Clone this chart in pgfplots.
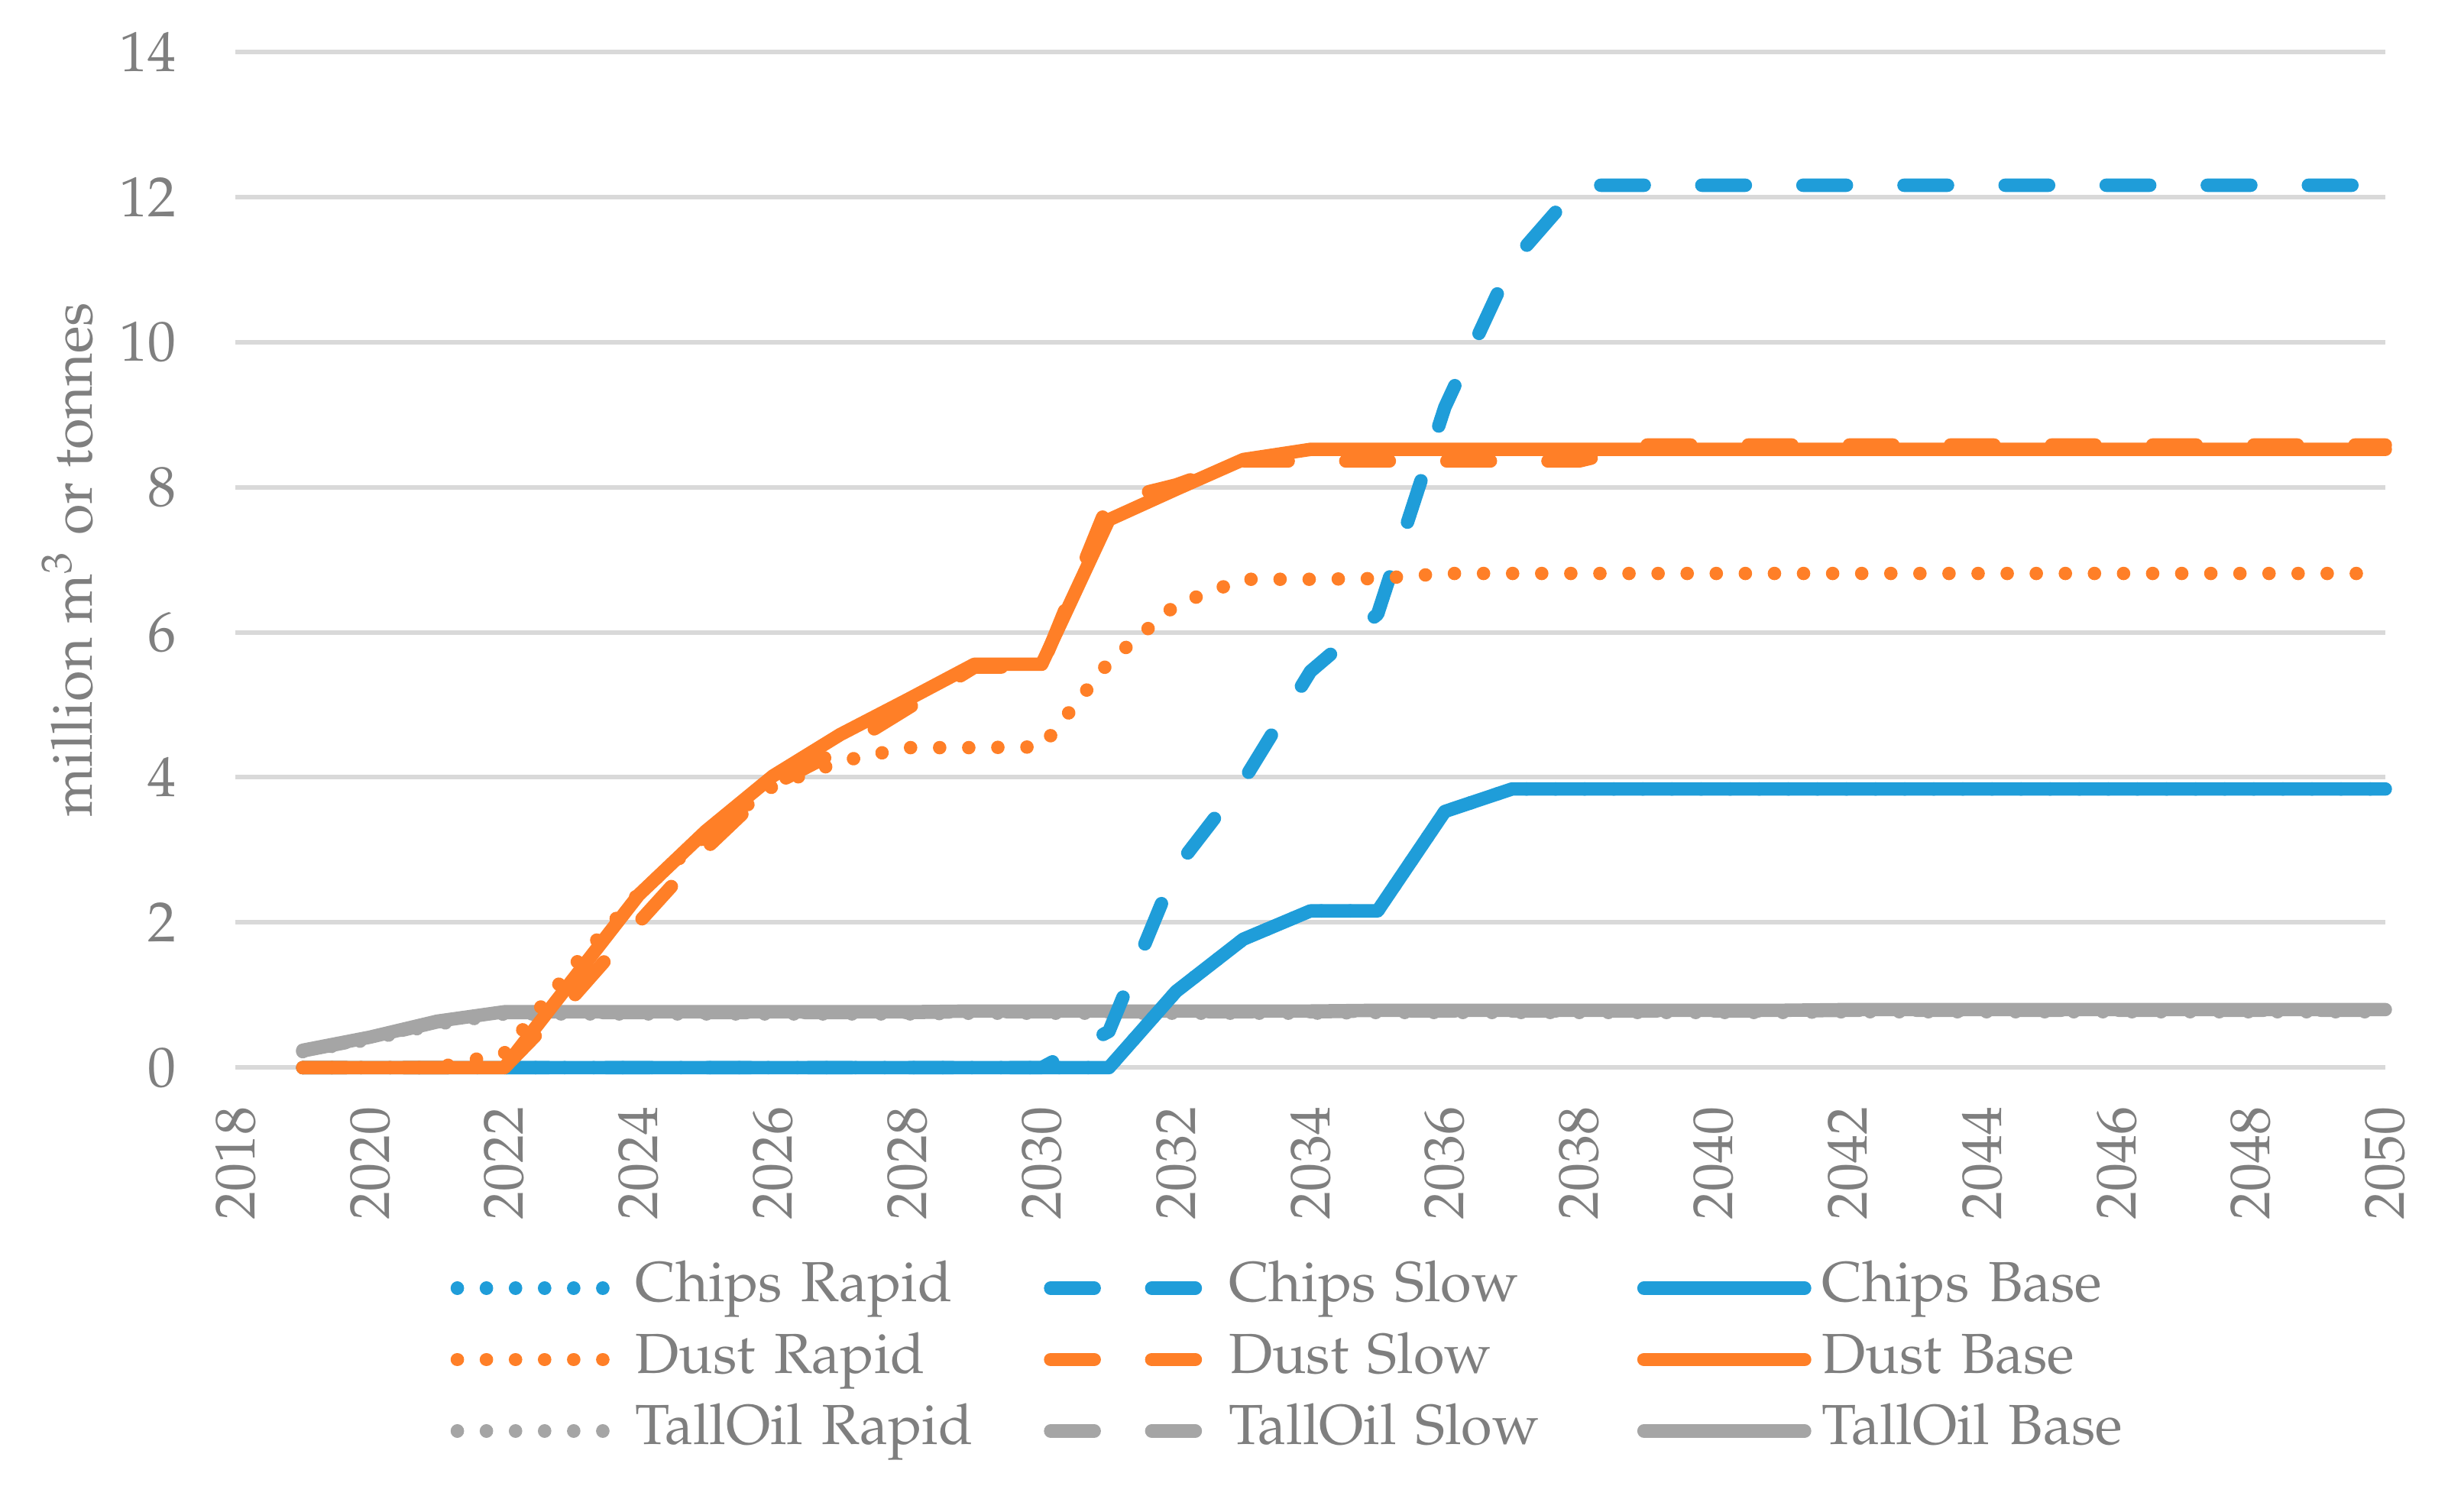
\documentclass[border=0pt]{standalone}
\usepackage[T1]{fontenc}
\usepackage{mathpazo}
\usepackage{pgfplots}
\usepackage{pgfplotstable}
\pgfplotsset{compat=1.18}

\definecolor{chips}{HTML}{1F9DD9}
\definecolor{dust}{HTML}{FF7F27}
\definecolor{tall}{HTML}{A5A5A5}
\definecolor{gridc}{HTML}{D9D9D9}
\definecolor{txt}{HTML}{7F7F7F}

% year, chips rapid/slow/base, dust rapid/slow/base, talloil rapid/slow/base
\pgfplotstableread{
year cr    cs    cb    dr    ds    db    tr    ts    tb
2019 0     0     0     0     0     0     0.22  0.23  0.24
2020 0     0     0     0     0     0     0.39  0.41  0.42
2021 0     0     0     0     0     0     0.60  0.63  0.64
2022 0     0     0     0.20  0     0     0.74  0.76  0.77
2023 0     0     0     1.37  0.95  1.19  0.74  0.76  0.77
2024 0     0     0     2.40  2.00  2.38  0.74  0.76  0.77
2025 0     0     0     3.20  3.02  3.26  0.74  0.76  0.77
2026 0     0     0     3.88  3.90  4.02  0.74  0.76  0.77
2027 0     0     0     4.22  4.38  4.59  0.74  0.76  0.77
2028 0     0     0     4.41  4.95  5.07  0.74  0.76  0.77
2029 0     0     0     4.41  5.52  5.56  0.75  0.77  0.78
2030 0     0     0     4.42  5.52  5.56  0.75  0.77  0.78
2031 0     0.50  0     5.59  7.80  7.55  0.75  0.77  0.78
2032 1.05  2.75  1.05  6.38  8.03  7.97  0.75  0.77  0.78
2033 1.77  3.95  1.77  6.73  8.36  8.38  0.75  0.77  0.78
2034 2.16  5.46  2.16  6.73  8.36  8.52  0.75  0.77  0.78
2035 2.16  6.25  2.16  6.74  8.36  8.52  0.76  0.78  0.79
2036 3.53  9.10  3.53  6.81  8.36  8.52  0.76  0.78  0.79
2037 3.84  11.10 3.84  6.81  8.36  8.52  0.76  0.78  0.79
2038 3.84  12.16 3.84  6.81  8.36  8.52  0.76  0.78  0.79
2039 3.84  12.16 3.84  6.81  8.58  8.52  0.76  0.78  0.79
2040 3.84  12.16 3.84  6.81  8.58  8.52  0.76  0.78  0.79
2041 3.84  12.16 3.84  6.81  8.58  8.52  0.76  0.78  0.79
2042 3.84  12.16 3.84  6.81  8.58  8.52  0.77  0.79  0.80
2043 3.84  12.16 3.84  6.81  8.58  8.52  0.77  0.79  0.80
2044 3.84  12.16 3.84  6.81  8.58  8.52  0.77  0.79  0.80
2045 3.84  12.16 3.84  6.81  8.58  8.52  0.77  0.79  0.80
2046 3.84  12.16 3.84  6.81  8.58  8.52  0.77  0.79  0.80
2047 3.84  12.16 3.84  6.81  8.58  8.52  0.77  0.79  0.80
2048 3.84  12.16 3.84  6.81  8.58  8.52  0.77  0.79  0.80
2049 3.84  12.16 3.84  6.81  8.58  8.52  0.77  0.79  0.80
2050 3.84  12.16 3.84  6.81  8.58  8.52  0.77  0.79  0.80
}\data

\pgfplotsset{
  ln/.style={line width=2.5pt, line cap=round, line join=round},
  rapid/.style={ln, dash pattern=on 0.01pt off 5.4pt},
  slow/.style={ln, dash pattern=on 8.1pt off 10.7pt},
  base/.style={ln},
}

\begin{document}
\fontsize{10.5}{12.6}\selectfont
\begin{tikzpicture}
\begin{axis}[
  scale only axis,
  width=14.05cm, height=6.64cm,
  xmin=2018, xmax=2050, ymin=0, ymax=14,
  xtick distance=2, ytick distance=2,
  clip=false,
  axis line style={draw=none},
  major tick length=0pt,
  ymajorgrids,
  grid style={gridc, line width=0.85pt},
  /pgf/number format/1000 sep={},
  /pgf/number format/assume math mode=true,
  tick label style={text=txt, font=\fontsize{10.5}{12.6}\selectfont},
  xticklabel style={rotate=90, anchor=east, inner sep=0pt},
  xticklabel shift=0.25cm,
  yticklabel style={anchor=east, inner sep=0pt},
  yticklabel shift=0.38cm,
  ylabel={million m$^3$ or tonnes},
  ylabel style={at={(axis description cs:-0.078,0.5)}, anchor=center,
    text=txt, font=\fontsize{10.5}{12.6}\selectfont},
  legend columns=3,
  legend cell align=left,
  legend image code/.code={\draw[#1] (0cm,0cm) -- (1.05cm,0cm);},
  legend style={draw=none, fill=none, inner sep=0pt, outer sep=0pt,
    column sep=0.07cm, row sep=0.08cm,
    at={(0.100,-0.188)}, anchor=north west,
    font=\fontsize{10.5}{12.6}\selectfont, text=txt,
    nodes={text width=2.60cm, inner sep=0pt, text height=8pt, text depth=3pt, align=left}},
]
\coordinate (sw) at (rel axis cs:0,0);
\coordinate (ne) at (rel axis cs:1,1);

% tall oil drawn first, underneath the others
\addplot[rapid, tall, forget plot] table[x=year, y=tr] {\data};
\addplot[slow, tall, forget plot] table[x=year, y=ts] {\data};
\addplot[base, tall, forget plot] table[x=year, y=tb] {\data};

\addplot[rapid, chips] table[x=year, y=cr] {\data};
\addlegendentry{Chips Rapid}
\addplot[slow, chips] table[x=year, y=cs] {\data};
\addlegendentry{Chips Slow}
\addplot[base, chips] table[x=year, y=cb] {\data};
\addlegendentry{Chips Base}

\addplot[rapid, dust] table[x=year, y=dr] {\data};
\addlegendentry{Dust Rapid}
\addplot[slow, dust] table[x=year, y=ds] {\data};
\addlegendentry{Dust Slow}
\addplot[base, dust] table[x=year, y=db] {\data};
\addlegendentry{Dust Base}

\addlegendimage{rapid, tall}
\addlegendentry{TallOil Rapid}
\addlegendimage{slow, tall}
\addlegendentry{TallOil Slow}
\addlegendimage{base, tall}
\addlegendentry{TallOil Base}
\end{axis}
\pgfresetboundingbox
\path[use as bounding box] ([shift={(-1.54cm,-2.90cm)}]sw) rectangle ([shift={(0.41cm,0.338cm)}]ne);
\end{tikzpicture}
\end{document}
